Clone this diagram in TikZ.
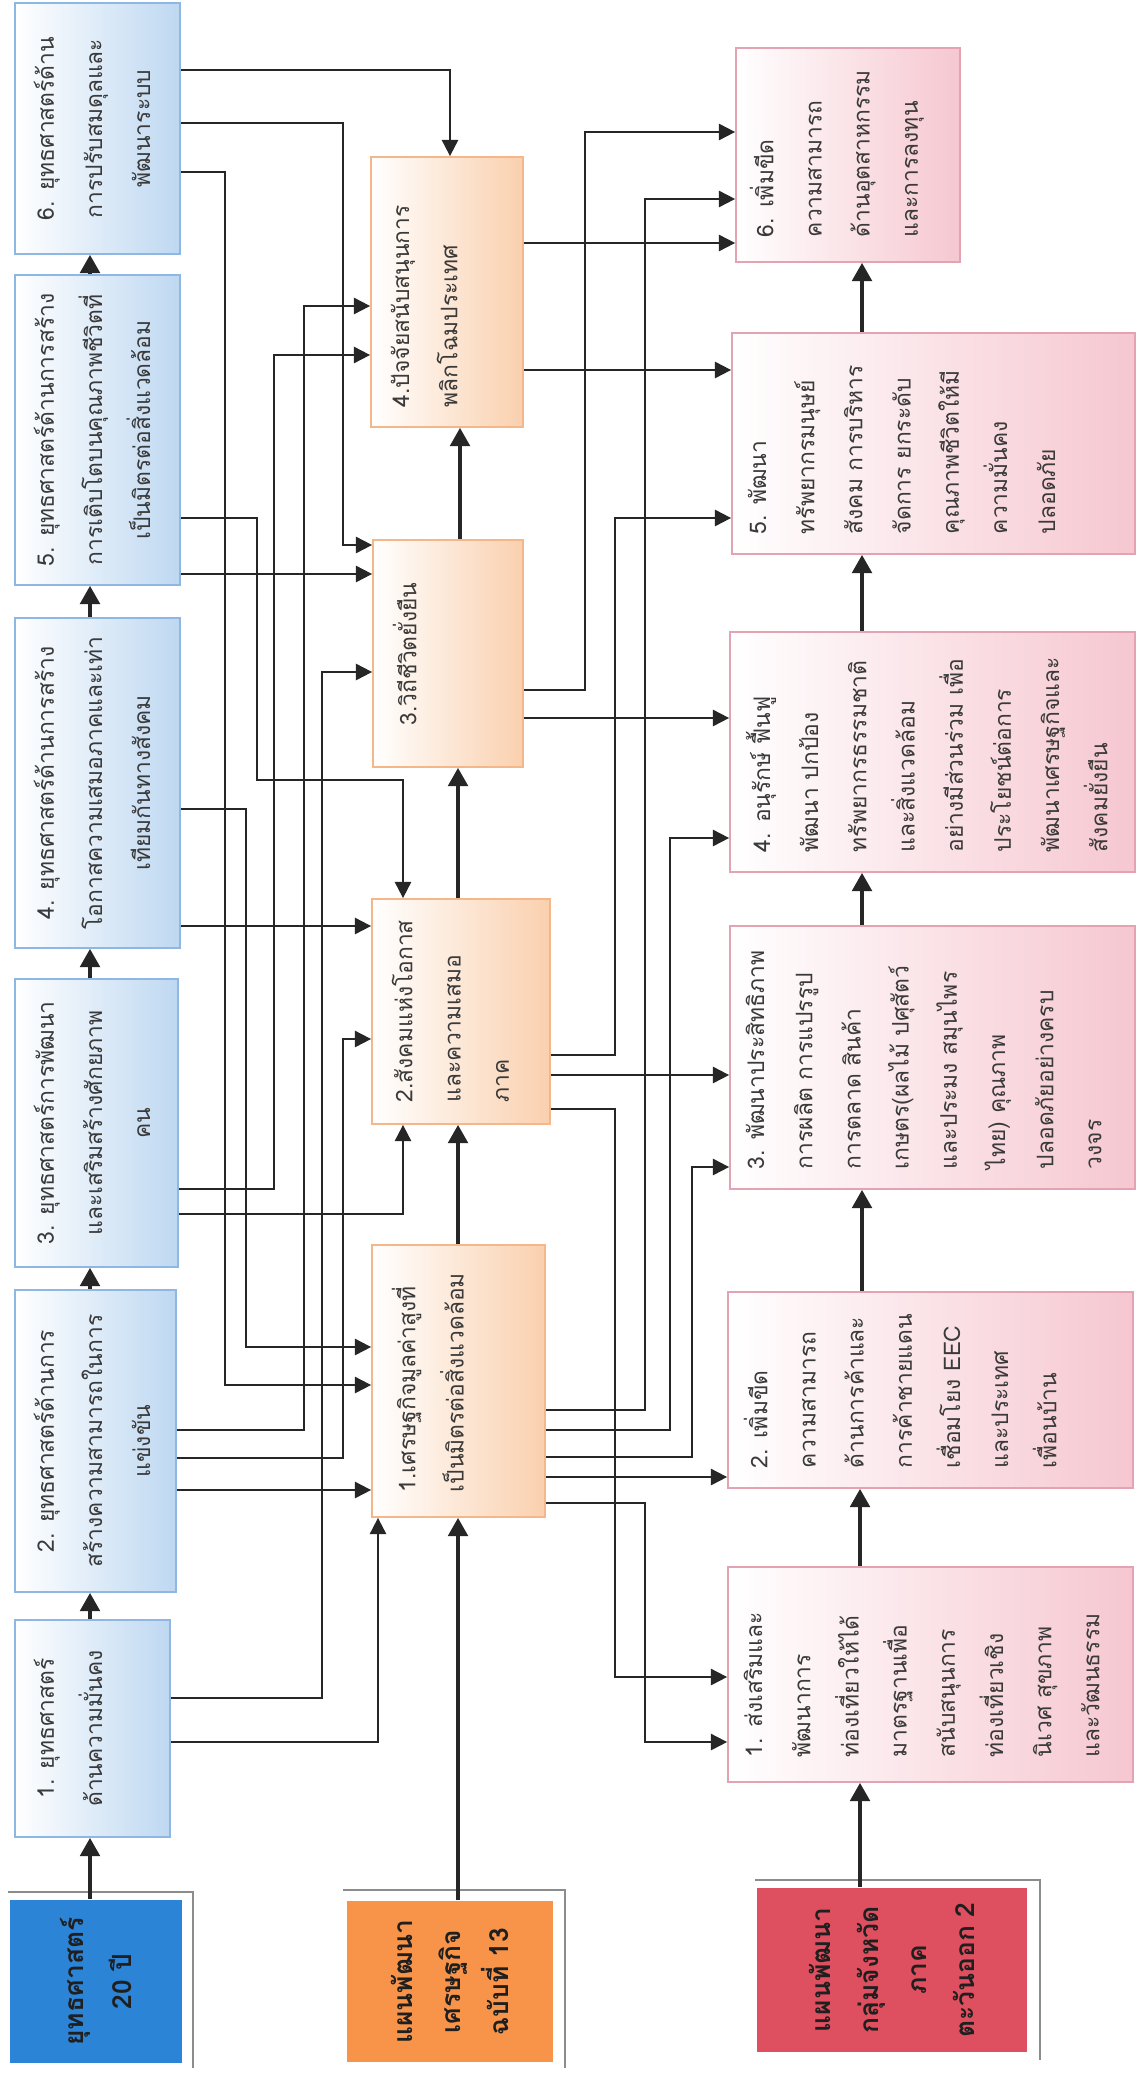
\documentclass[tikz,border=0pt]{standalone}
\usepackage{fontspec}
\newfontfamily\thai[Script=Thai]{Loma}
\usetikzlibrary{arrows.meta,fit}
\definecolor{blueR}{HTML}{BED8F1}
\definecolor{blueE}{HTML}{8EB8E3}
\definecolor{darkblue}{HTML}{2C84D6}
\definecolor{orR}{HTML}{FAD0AE}
\definecolor{orE}{HTML}{F3B78A}
\definecolor{orFill}{HTML}{F7944A}
\definecolor{pkR}{HTML}{F6C7D0}
\definecolor{pkE}{HTML}{E4A3B2}
\definecolor{redFill}{HTML}{DE4F5F}
\definecolor{txtC}{HTML}{3A3A3A}
\definecolor{lineC}{HTML}{262626}
\definecolor{frameC}{HTML}{8C8C8C}
\begin{document}
\begin{tikzpicture}[x=0.01cm,y=-0.01cm,
  box/.style={rectangle, inner sep=0pt, line width=0.5pt},
  bluebox/.style={box, draw=blueE, left color=white, right color=blueR},
  orbox/.style={box, draw=orE, left color=white, right color=orR},
  pkbox/.style={box, draw=pkE, left color=white, right color=pkR},
  solidbox/.style={box, draw=none},
  txt/.style={font=\thai\fontsize{6.5}{13.7}\selectfont, text=txtC, inner sep=0pt, rotate=90},
  head/.style={font=\thai\bfseries\fontsize{7.5}{13.6}\selectfont, text=black!88, inner sep=0pt, rotate=90, align=center},
  con/.style={draw=lineC, line width=0.55pt, -{Triangle[length=4.6pt,width=4.6pt]}},
  chain/.style={draw=lineC, line width=1pt, -{Triangle[length=5.2pt,width=5.6pt]}},
  frame/.style={draw=frameC, line width=0.8pt}
]
\useasboundingbox[fill=white] (0,0) rectangle (1146,2073);

% ---------- left column: strategies ----------
\node[bluebox, fit={(15,3) (180,254)}] (S6) {};
\node[bluebox, fit={(15,275) (180,585)}] (S5) {};
\node[bluebox, fit={(15,618) (180,948)}] (S4) {};
\node[bluebox, fit={(15,979) (178,1267)}] (S3) {};
\node[bluebox, fit={(15,1290) (176,1592)}] (S2) {};
\node[bluebox, fit={(15,1620) (170,1837)}] (S1) {};
\draw[frame] (8,1892) -- (193,1892) -- (193,2068);
\node[solidbox, fill=darkblue, fit={(10,1900) (182,2063)}] (Y20) {};

\node[txt, align=center, anchor=north] (S6t) at ([xshift=0.19cm]S6.west) {6. ยุทธศาสตร์ด้าน\\การปรับสมดุลและ\\พัฒนาระบบ};
\node[txt, align=center, anchor=north] (S5t) at ([xshift=0.19cm]S5.west) {5. ยุทธศาสตร์ด้านการสร้าง\\การเติบโตบนคุณภาพชีวิตที่\\เป็นมิตรต่อสิ่งแวดล้อม};
\node[txt, align=center, anchor=north] (S4t) at ([xshift=0.19cm]S4.west) {4. ยุทธศาสตร์ด้านการสร้าง\\โอกาสความเสมอภาคและเท่า\\เทียมกันทางสังคม};
\node[txt, align=center, anchor=north] (S3t) at ([xshift=0.19cm]S3.west) {3. ยุทธศาสตร์การพัฒนา\\และเสริมสร้างศักยภาพ\\คน};
\node[txt, align=center, anchor=north] (S2t) at ([xshift=0.19cm]S2.west) {2. ยุทธศาสตร์ด้านการ\\สร้างความสามารถในการ\\แข่งขัน};
\node[txt, align=center, anchor=north] (S1t) at ([xshift=0.19cm]S1.west) {1. ยุทธศาสตร์\\ด้านความมั่นคง};
\node[head] (Y20t) at (Y20.center) {ยุทธศาสตร์\\20 ปี};

% ---------- middle column: plan 13 ----------
\node[orbox, fit={(371,157) (523,427)}] (E4) {};
\node[orbox, fit={(373,540) (523,767)}] (E3) {};
\node[orbox, fit={(372,899) (550,1124)}] (E2) {};
\node[orbox, fit={(372,1245) (545,1517)}] (E1) {};
\draw[frame] (343,1890) -- (565,1890) -- (565,2068);
\node[solidbox, fill=orFill, fit={(347,1901) (553,2062)}] (Eb) {};

\node[txt, align=left, anchor=north west] (E4t) at ([xshift=0.2cm,yshift=0.2cm]E4.south west) {4.ปัจจัยสนับสนุนการ\\พลิกโฉมประเทศ};
\node[txt, align=left, anchor=north west] (E3t) at ([xshift=0.2cm,yshift=0.42cm]E3.south west) {3.วิถีชีวิตยั่งยืน};
\node[txt, align=left, anchor=north west] (E2t) at ([xshift=0.2cm,yshift=0.22cm]E2.south west) {2.สังคมแห่งโอกาส\\และความเสมอ\\ภาค};
\node[txt, align=left, anchor=north west] (E1t) at ([xshift=0.2cm,yshift=0.25cm]E1.south west) {1.เศรษฐกิจมูลค่าสูงที่\\เป็นมิตรต่อสิ่งแวดล้อม};
\node[head] (Ebt) at (Eb.center) {แผนพัฒนา\\เศรษฐกิจ\\ฉบับที่ 13};

% ---------- right column: provincial group plan ----------
\node[pkbox, fit={(736,48) (960,262)}] (P6) {};
\node[pkbox, fit={(732,333) (1135,554)}] (P5) {};
\node[pkbox, fit={(730,632) (1135,872)}] (P4) {};
\node[pkbox, fit={(730,926) (1135,1189)}] (P3) {};
\node[pkbox, fit={(728,1292) (1133,1488)}] (P2) {};
\node[pkbox, fit={(728,1567) (1133,1782)}] (P1) {};
\draw[frame] (755,1880) -- (1040,1880) -- (1040,2060);
\node[solidbox, fill=redFill, fit={(757,1888) (1027,2052)}] (Red) {};

\node[txt, align=left, anchor=north west] (P6t) at ([xshift=0.14cm,yshift=0.25cm]P6.south west) {6. เพิ่มขีด\\ความสามารถ\\ด้านอุตสาหกรรม\\และการลงทุน};
\node[txt, align=left, anchor=north west] (P5t) at ([xshift=0.16cm,yshift=0.2cm]P5.south west) {5. พัฒนา\\ทรัพยากรมนุษย์\\สังคม การบริหาร\\จัดการ ยกระดับ\\คุณภาพชีวิตให้มี\\ความมั่นคง\\ปลอดภัย};
\node[txt, align=left, anchor=north west] (P4t) at ([xshift=0.16cm,yshift=0.2cm]P4.south west) {4. อนุรักษ์ ฟื้นฟู\\พัฒนา ปกป้อง\\ทรัพยากรธรรมชาติ\\และสิ่งแวดล้อม\\อย่างมีส่วนร่วม เพื่อ\\ประโยชน์ต่อการ\\พัฒนาเศรษฐกิจและ\\สังคมยั่งยืน};
\node[txt, align=left, anchor=north west] (P3t) at ([xshift=0.16cm,yshift=0.2cm]P3.south west) {3. พัฒนาประสิทธิภาพ\\การผลิต การแปรรูป\\การตลาด สินค้า\\เกษตร(ผลไม้ ปศุสัตว์\\และประมง สมุนไพร\\ไทย) คุณภาพ\\ปลอดภัยอย่างครบ\\วงจร};
\node[txt, align=left, anchor=north west] (P2t) at ([xshift=0.16cm,yshift=0.2cm]P2.south west) {2. เพิ่มขีด\\ความสามารถ\\ด้านการค้าและ\\การค้าชายแดน\\เชื่อมโยง EEC\\และประเทศ\\เพื่อนบ้าน};
\node[txt, align=left, anchor=north west] (P1t) at ([xshift=0.16cm,yshift=0.25cm]P1.south west) {1. ส่งเสริมและ\\พัฒนาการ\\ท่องเที่ยวให้ได้\\มาตรฐานเพื่อ\\สนับสนุนการ\\ท่องเที่ยวเชิง\\นิเวศ สุขภาพ\\และวัฒนธรรม};
\node[head] (Redt) at (Red.center) {แผนพัฒนา\\กลุ่มจังหวัด\\ภาค\\ตะวันออก 2};

% ---------- chains ----------
\draw[chain] (Y20.north -| 90,0) -- (S1.south -| 90,0);
\draw[chain] (S1.north -| 90,0) -- (S2.south -| 90,0);
\draw[chain] (S2.north -| 90,0) -- (S3.south -| 90,0);
\draw[chain] (S3.north -| 90,0) -- (S4.south -| 90,0);
\draw[chain] (S4.north -| 90,0) -- (S5.south -| 90,0);
\draw[chain] (S5.north -| 90,0) -- (S6.south -| 90,0);

\draw[chain] (Eb.north -| 458,0) -- (E1.south -| 458,0);
\draw[chain] (E1.north -| 458,0) -- (E2.south -| 458,0);
\draw[chain] (E2.north -| 458,0) -- (E3.south -| 458,0);
\draw[chain] (E3.north -| 460,0) -- (E4.south -| 460,0);

\draw[chain] (Red.north -| 860,0) -- (P1.south -| 860,0);
\draw[chain] (P1.north -| 860,0) -- (P2.south -| 860,0);
\draw[chain] (P2.north -| 862,0) -- (P3.south -| 862,0);
\draw[chain] (P3.north -| 862,0) -- (P4.south -| 862,0);
\draw[chain] (P4.north -| 862,0) -- (P5.south -| 862,0);
\draw[chain] (P5.north -| 862,0) -- (P6.south -| 862,0);

% ---------- strategies -> plan 13 ----------
\draw[con] (S6.east |- 0,70) -| (E4.north -| 450,0);
\draw[con] (S6.east |- 0,123) -| (343,545) -- (E3.west |- 0,545);
\draw[con] (S6.east |- 0,172) -| (225,1385) -- (E1.west |- 0,1385);
\draw[con] (S5.east |- 0,518) -| (257,780) -| (E2.north -| 403,0);
\draw[con] (S5.east |- 0,574) -- (E3.west |- 0,574);
\draw[con] (S4.east |- 0,809) -| (246,1347) -- (E1.west |- 0,1347);
\draw[con] (S4.east |- 0,926) -- (E2.west |- 0,926);
\draw[con] (S3.east |- 0,1189) -| (274,355) -- (E4.west |- 0,355);
\draw[con] (S3.east |- 0,1214) -| (E2.south -| 403,0);
\draw[con] (S2.east |- 0,1430) -| (304,306) -- (E4.west |- 0,306);
\draw[con] (S2.east |- 0,1458) -| (343,1039) -- (E2.west |- 0,1039);
\draw[con] (S2.east |- 0,1490) -- (E1.west |- 0,1490);
\draw[con] (S1.east |- 0,1698) -| (322,672) -- (E3.west |- 0,672);
\draw[con] (S1.east |- 0,1742) -| (E1.south -| 378,0);

% ---------- plan 13 -> provincial group plan ----------
\draw[con] (E4.east |- 0,243) -- (P6.west |- 0,243);
\draw[con] (E4.east |- 0,370) -- (P5.west |- 0,370);
\draw[con] (E3.east |- 0,690) -| (585,132) -- (P6.west |- 0,132);
\draw[con] (E3.east |- 0,718) -- (P4.west |- 0,718);
\draw[con] (E2.east |- 0,1055) -| (615,518) -- (P5.west |- 0,518);
\draw[con] (E2.east |- 0,1075) -- (P3.west |- 0,1075);
\draw[con] (E2.east |- 0,1109) -| (615,1677) -- (P1.west |- 0,1677);
\draw[con] (E1.east |- 0,1410) -| (645,199) -- (P6.west |- 0,199);
\draw[con] (E1.east |- 0,1430) -| (670,838) -- (P4.west |- 0,838);
\draw[con] (E1.east |- 0,1457) -| (692,1167) -- (P3.west |- 0,1167);
\draw[con] (E1.east |- 0,1477) -- (P2.west |- 0,1477);
\draw[con] (E1.east |- 0,1503) -| (645,1742) -- (P1.west |- 0,1742);
\end{tikzpicture}
\end{document}
